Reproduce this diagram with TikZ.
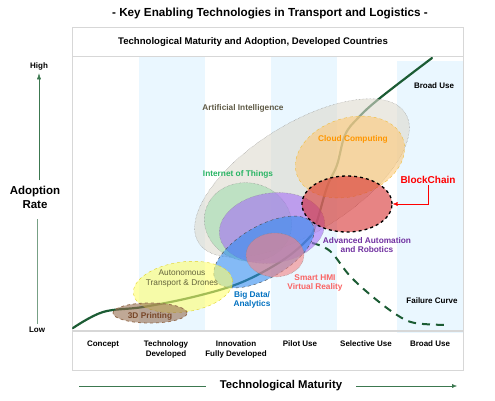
\documentclass[tikz,border=0pt]{standalone}
\usepackage{fontspec}
\setmainfont{Liberation Sans}
\usetikzlibrary{shapes.geometric,arrows.meta}

\definecolor{CurveGreen}{RGB}{28,92,52}
\definecolor{AxisGreen}{RGB}{60,120,80}
\definecolor{BandBlue}{RGB}{234,247,255}
\definecolor{FrameGray}{RGB}{215,215,215}
\definecolor{AIFill}{RGB}{222,218,206}
\definecolor{AIText}{RGB}{95,90,70}
\definecolor{IoTFill}{RGB}{160,220,175}
\definecolor{IoTText}{RGB}{40,180,100}
\definecolor{RobFill}{RGB}{165,110,245}
\definecolor{RobText}{RGB}{112,48,160}
\definecolor{BigFill}{RGB}{50,140,240}
\definecolor{BigText}{RGB}{0,112,192}
\definecolor{HMIFill}{RGB}{245,130,130}
\definecolor{HMIText}{RGB}{250,100,100}
\definecolor{CloudFill}{RGB}{252,200,120}
\definecolor{CloudLine}{RGB}{240,190,60}
\definecolor{CloudText}{RGB}{255,150,0}
\definecolor{ChainFill}{RGB}{215,50,50}
\definecolor{AutoFill}{RGB}{255,255,110}
\definecolor{AutoLine}{RGB}{225,210,40}
\definecolor{AutoText}{RGB}{100,100,60}
\definecolor{PrintFill}{RGB}{150,110,80}
\definecolor{PrintText}{RGB}{120,70,40}

\begin{document}
\begin{tikzpicture}[x=1pt,y=-1pt]
	\tikzset{
	  TechEllipse/.style = { ellipse, inner sep=0pt, fill opacity=0.6 },
	  TechLabel/.style = { font=\fontsize{8.3}{9.5}\selectfont\bfseries,
	                       align=center, inner sep=1pt },
	  ColLabel/.style = { font=\fontsize{8}{10}\selectfont\bfseries,
	                      align=center, anchor=north },
	  AxisLabel/.style = { font=\fontsize{8}{9}\selectfont\bfseries } }
	\useasboundingbox (0,0) rectangle (495,400);
	% frame and bands
	\fill[BandBlue] (139,57) rectangle (205,330);
	\fill[BandBlue] (271,57) rectangle (337,330);
	\fill[BandBlue] (397,61) rectangle (463,333);
	\draw[FrameGray] (72,27) rectangle (463,370);
	\draw[FrameGray] (72,56) -- (463,56);
	\draw[FrameGray, line width=1.2pt] (72,331) -- (463,331);
	\node[font=\fontsize{11.7}{13}\selectfont\bfseries] (title) at (270,13)
	  {- Key Enabling Technologies in Transport and Logistics -};
	\node[font=\fontsize{9.6}{11}\selectfont\bfseries] (header) at (253,42)
	  {Technological Maturity and Adoption, Developed Countries};
	% adoption curve
	\draw[CurveGreen, line width=2.2pt, line cap=round] plot[smooth, tension=0.6]
	  coordinates {(73,328) (103,312) (143,307) (193,297) (240,283) (280,262)
	  (305,242) (315,227) (327,187) (337,165) (345,135) (358,118) (380,98) (432,58)};
	\draw[CurveGreen, line width=2pt, dash pattern=on 8pt off 6pt] plot[smooth, tension=0.6]
	  coordinates {(312,243) (330,251) (350,276) (373,297) (397,315) (415,323) (447,325)};
	% technologies
	\node[TechEllipse, fill=AIFill, draw=gray, densely dotted,
	      minimum width=244, minimum height=108, rotate=32] (ai) at (302,178) {};
	\node[TechEllipse, fill=IoTFill, draw=gray, densely dotted,
	      minimum width=88, minimum height=78, rotate=-15] (iot) at (248,222) {};
	\node[TechEllipse, fill=RobFill, draw=gray, densely dotted,
	      minimum width=106, minimum height=70, rotate=8] (robot) at (272,228) {};
	\node[TechEllipse, fill=BigFill, draw=black!70, dashed,
	      minimum width=112, minimum height=52, rotate=30] (bigdata) at (264,252) {};
	\node[TechEllipse, fill=HMIFill, draw=gray, densely dotted,
	      minimum width=58, minimum height=44] (hmi) at (275,255) {};
	\node[TechEllipse, fill=AutoFill, draw=AutoLine, dashed,
	      minimum width=100, minimum height=50, rotate=8] (auto) at (183,287) {};
	\node[TechEllipse, fill=PrintFill, draw=PrintFill, dashed, thick,
	      minimum width=74, minimum height=20] (print) at (150,313) {};
	\node[TechEllipse, fill=CloudFill, draw=CloudLine, dashed,
	      minimum width=112, minimum height=78, rotate=18] (cloud) at (350,157) {};
	\node[TechEllipse, fill=ChainFill, draw=black, dashed, line width=1.3pt,
	      minimum width=90, minimum height=56] (chain) at (347,204) {};
	% technology labels
	\node[TechLabel, text=AIText] (ailabel) at (243,108) {Artificial Intelligence};
	\node[TechLabel, text=IoTText] (iotlabel) at (238,174) {Internet of Things};
	\node[TechLabel, text=RobText] (robotlabel) at (367,245) {Advanced Automation\\and Robotics};
	\node[TechLabel, text=BigText] (bigdatalabel) at (252,300) {Big Data/\\Analytics};
	\node[TechLabel, text=HMIText] (hmilabel) at (315,283) {Smart HMI\\Virtual Reality};
	\node[TechLabel, text=AutoText, font=\fontsize{8.3}{10}\selectfont] (autolabel) at (182,278) {Autonomous\\Transport \& Drones};
	\node[TechLabel, text=PrintText] (printlabel) at (150,316) {3D Printing};
	\node[TechLabel, text=CloudText] (cloudlabel) at (353,139) {Cloud Computing};
	\node[TechLabel, text=red, font=\fontsize{10}{11}\selectfont\bfseries] (chainlabel) at (428,180) {BlockChain};
	\draw[red, -{Latex[length=5pt,width=4pt]}] (chainlabel.south) |- (chain.east);
	\node[AxisLabel] (broadtop) at (434,86) {Broad Use};
	\node[AxisLabel] (failure) at (432,301) {Failure Curve};
	% maturity stages
	\node[ColLabel] (concept) at (103,337) {Concept};
	\node[ColLabel] (techdev) at (166,337) {Technology\\Developed};
	\node[ColLabel] (innov) at (236,337) {Innovation\\Fully Developed};
	\node[ColLabel] (pilot) at (300,337) {Pilot Use};
	\node[ColLabel] (selective) at (366,337) {Selective Use};
	\node[ColLabel] (broad) at (430,337) {Broad Use};
	% axes
	\node[AxisLabel] (high) at (39,66) {High};
	\node[AxisLabel] (low) at (37,330) {Low};
	\node[font=\fontsize{11.5}{14}\selectfont\bfseries, align=center] (adoption) at (35,197) {Adoption\\Rate};
	\draw[AxisGreen, -{Latex[length=6pt,width=4pt]}] (adoption.north) ++(4,-2) coordinate (ytop) -- (high.south);
	\draw[AxisGreen!70] (37,219) coordinate (ylow) -- (low.north);
	\node[font=\fontsize{11.3}{13}\selectfont\bfseries, inner xsep=14pt] (maturity) at (281,386) {Technological Maturity};
	\coordinate (xstart) at (79,386);
	\coordinate (xend) at (457,386);
	\draw[AxisGreen] (xstart) -- (maturity.west);
	\draw[AxisGreen, -{Latex[length=5pt,width=4pt]}] (maturity.east) -- (xend);
\end{tikzpicture}
\end{document}
